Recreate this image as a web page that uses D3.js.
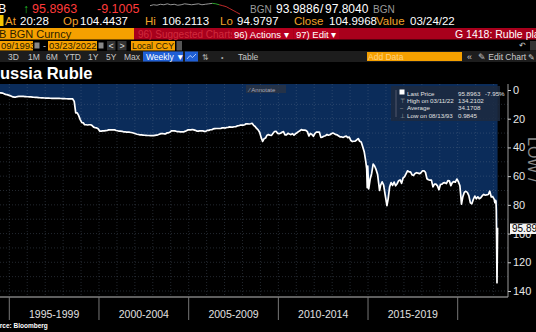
<!DOCTYPE html>
<html><head><meta charset="utf-8">
<script src="https://cdn.jsdelivr.net/npm/d3@7"></script>
<style>
html,body{margin:0;padding:0;background:#000;overflow:hidden;}
svg{display:block;}
text{font-family:"Liberation Sans",Arial,sans-serif;}
</style></head><body>
<svg id="c" width="536" height="332"></svg>
<script>
// ---------------- DATA ----------------
const dates = [
"1993-09-15","1993-10-15","1993-11-15","1993-12-15",
"1994-01-15","1994-02-15","1994-03-15","1994-04-15","1994-05-15","1994-06-15","1994-07-15","1994-08-15","1994-09-15","1994-10-15","1994-11-15","1994-12-15",
"1995-01-15","1995-02-15","1995-03-15","1995-04-15","1995-05-15","1995-06-15","1995-07-15","1995-08-15","1995-09-15","1995-10-15","1995-11-15","1995-12-15",
"1996-01-15","1996-02-15","1996-03-15","1996-04-15","1996-05-15","1996-06-15","1996-07-15","1996-08-15","1996-09-15","1996-10-15","1996-11-15","1996-12-15",
"1997-01-15","1997-02-15","1997-03-15","1997-04-15","1997-05-15","1997-06-15","1997-07-15","1997-08-15","1997-09-15","1997-10-15","1997-11-15","1997-12-15",
"1998-01-15","1998-02-15","1998-03-15","1998-04-15","1998-05-15","1998-06-15","1998-07-15","1998-08-15","1998-09-15","1998-10-15","1998-11-15","1998-12-15",
"1999-01-15","1999-02-15","1999-03-15","1999-04-15","1999-05-15","1999-06-15","1999-07-15","1999-08-15","1999-09-15","1999-10-15","1999-11-15","1999-12-15",
"2000-01-15","2000-02-15","2000-03-15","2000-04-15","2000-05-15","2000-06-15","2000-07-15","2000-08-15","2000-09-15","2000-10-15","2000-11-15","2000-12-15",
"2001-01-15","2001-02-15","2001-03-15","2001-04-15","2001-05-15","2001-06-15","2001-07-15","2001-08-15","2001-09-15","2001-10-15","2001-11-15","2001-12-15",
"2002-01-15","2002-02-15","2002-03-15","2002-04-15","2002-05-15","2002-06-15","2002-07-15","2002-08-15","2002-09-15","2002-10-15","2002-11-15","2002-12-15",
"2003-01-15","2003-02-15","2003-03-15","2003-04-15","2003-05-15","2003-06-15","2003-07-15","2003-08-15","2003-09-15","2003-10-15","2003-11-15","2003-12-15",
"2004-01-15","2004-02-15","2004-03-15","2004-04-15","2004-05-15","2004-06-15","2004-07-15","2004-08-15","2004-09-15","2004-10-15","2004-11-15","2004-12-15",
"2005-01-15","2005-02-15","2005-03-15","2005-04-15","2005-05-15","2005-06-15","2005-07-15","2005-08-15","2005-09-15","2005-10-15","2005-11-15","2005-12-15",
"2006-01-15","2006-02-15","2006-03-15","2006-04-15","2006-05-15","2006-06-15","2006-07-15","2006-08-15","2006-09-15","2006-10-15","2006-11-15","2006-12-15",
"2007-01-15","2007-02-15","2007-03-15","2007-04-15","2007-05-15","2007-06-15","2007-07-15","2007-08-15","2007-09-15","2007-10-15","2007-11-15","2007-12-15",
"2008-01-15","2008-02-15","2008-03-15","2008-04-15","2008-05-15","2008-06-15","2008-07-15","2008-08-15","2008-09-15","2008-10-15","2008-11-15","2008-12-15",
"2009-01-15","2009-02-15","2009-03-15","2009-04-15","2009-05-15","2009-06-15","2009-07-15","2009-08-15","2009-09-15","2009-10-15","2009-11-15","2009-12-15",
"2010-01-15","2010-02-15","2010-03-15","2010-04-15","2010-05-15","2010-06-15","2010-07-15","2010-08-15","2010-09-15","2010-10-15","2010-11-15","2010-12-15",
"2011-01-15","2011-02-15","2011-03-15","2011-04-15","2011-05-15","2011-06-15","2011-07-15","2011-08-15","2011-09-15","2011-10-15","2011-11-15","2011-12-15",
"2012-01-15","2012-02-15","2012-03-15","2012-04-15","2012-05-15","2012-06-15","2012-07-15","2012-08-15","2012-09-15","2012-10-15","2012-11-15","2012-12-15",
"2013-01-15","2013-02-15","2013-03-15","2013-04-15","2013-05-15","2013-06-15","2013-07-15","2013-08-15","2013-09-15","2013-10-15","2013-11-15","2013-12-15",
"2014-01-15","2014-02-15","2014-03-15","2014-04-15","2014-05-15","2014-06-15","2014-07-15","2014-08-15","2014-09-15","2014-10-15","2014-11-15","2014-12-05","2014-12-16","2014-12-26",
"2015-01-15","2015-02-15","2015-03-15","2015-04-15","2015-05-15","2015-06-15","2015-07-15","2015-08-24","2015-09-15","2015-10-15","2015-11-15","2015-12-15",
"2016-01-21","2016-02-15","2016-03-15","2016-04-15","2016-05-15","2016-06-15","2016-07-15","2016-08-15","2016-09-15","2016-10-15","2016-11-15","2016-12-15",
"2017-01-15","2017-02-15","2017-03-15","2017-04-15","2017-05-15","2017-06-15","2017-07-15","2017-08-15","2017-09-15","2017-10-15","2017-11-15","2017-12-15",
"2018-01-15","2018-02-15","2018-03-15","2018-04-15","2018-05-15","2018-06-15","2018-07-15","2018-08-15","2018-09-15","2018-10-15","2018-11-15","2018-12-15",
"2019-01-15","2019-02-15","2019-03-15","2019-04-15","2019-05-15","2019-06-15","2019-07-15","2019-08-15","2019-09-15","2019-10-15","2019-11-15","2019-12-15",
"2020-01-15","2020-02-15","2020-03-18","2020-04-15","2020-05-15","2020-06-15","2020-07-15","2020-08-15","2020-09-15","2020-10-15","2020-11-15","2020-12-15",
"2021-01-15","2021-02-15","2021-03-15","2021-04-15","2021-05-15","2021-06-15","2021-07-15","2021-08-15","2021-09-15","2021-10-15","2021-11-15","2021-12-15",
"2022-01-14","2022-01-28","2022-02-11","2022-02-18","2022-02-25","2022-03-04","2022-03-11","2022-03-18","2022-03-23"
];
const values = [
1.0,1.18,1.19,1.25,
1.5,1.6,1.75,1.8,1.9,1.99,2.03,2.15,2.6,3.05,3.23,3.55,
3.9,4.3,4.8,5.0,4.9,4.6,4.5,4.4,4.5,4.5,4.55,4.64,
4.7,4.8,4.85,4.95,5.05,5.1,5.2,5.3,5.4,5.45,5.5,5.56,
5.6,5.65,5.7,5.75,5.78,5.78,5.8,5.83,5.86,5.88,5.92,5.96,
6.0,6.07,6.1,6.12,6.16,6.2,6.23,7.9,16.0,15.9,17.9,20.6,
22.6,22.9,24.2,24.2,24.4,24.2,24.2,24.8,25.9,26.2,26.4,27.0,
28.6,28.7,28.5,28.5,28.3,28.2,27.8,27.8,27.8,27.8,27.8,28.2,
28.4,28.7,28.7,28.8,29.1,29.1,29.3,29.4,29.4,29.6,29.8,30.1,
30.5,30.8,31.0,31.2,31.3,31.4,31.5,31.6,31.7,31.7,31.8,31.8,
31.8,31.6,31.4,31.2,30.8,30.4,30.3,30.5,30.6,29.9,29.8,29.4,
28.5,28.5,28.5,28.7,29.0,29.0,29.1,29.2,29.2,28.8,28.4,27.8,
27.7,27.8,27.5,27.8,28.1,28.6,28.6,28.5,28.5,28.5,28.8,28.8,
28.1,28.1,27.7,27.7,27.1,26.9,26.8,26.8,26.8,26.8,26.4,26.3,
26.5,26.1,26.0,25.7,25.8,25.8,25.6,25.6,25.0,24.9,24.5,24.5,
24.5,24.2,23.5,23.6,23.7,23.5,23.2,24.6,25.4,26.8,27.8,29.4,
33.0,35.8,34.0,33.5,31.5,31.1,31.5,31.6,30.1,28.9,28.8,30.2,
30.4,30.1,29.4,29.0,31.2,31.2,30.2,30.7,31.1,30.4,31.4,30.5,
29.8,29.0,28.4,27.6,28.0,27.9,28.1,29.0,32.0,30.3,31.0,32.2,
30.3,29.3,29.3,29.3,33.0,32.8,32.2,31.9,31.0,31.5,31.2,30.5,
30.0,30.5,31.1,31.3,32.0,32.7,32.7,33.0,32.4,32.1,33.2,32.8,
35.1,35.9,35.7,35.6,34.8,33.8,35.7,36.2,39.6,43.0,49.5,55.0,68.0,53.0,
68.9,61.8,58.3,51.6,52.9,55.5,58.9,70.0,66.2,64.0,66.2,72.9,
80.5,75.8,67.6,64.5,66.5,64.1,66.7,65.3,63.2,62.6,65.0,61.3,
60.4,58.2,56.3,57.0,57.0,59.1,59.6,58.2,57.6,57.9,58.3,57.6,
56.3,56.3,57.3,61.8,62.5,62.8,62.8,67.5,65.6,65.6,66.8,69.4,
65.8,65.6,64.7,64.5,65.2,63.1,63.3,66.6,64.4,63.8,64.2,62.0,
63.9,66.7,79.5,74.3,71.2,70.6,71.3,73.6,78.6,79.3,76.1,73.9,
75.8,74.4,75.7,75.0,73.6,72.7,73.3,73.0,72.8,70.5,74.5,74.3,
76.2,78.5,76.9,77.4,83.6,106.0,134.2,112.0,95.9
];
const yTicks = [0,20,40,60,80,100,120,140];
const periodLabels = ["1995-1999","2000-2004","2005-2009","2010-2014","2015-2019"];
const periodStarts = [1995,2000,2005,2010,2015,2020];
const sparkValues = [5,4,4.5,3.5,4,3,4,3.5,4.5,4,3,3.5,4,3.5,3,4,3.5,3,2.5,3,4,5,6,8,10,12,14];
const legendRows = [
  ["Last Price","95.8963","-7.95%"],
  ["High on 03/11/22","134.2102",""],
  ["Average","34.1708",""],
  ["Low on 08/13/93","0.9845",""]
];

// ---------------- DRAW ----------------
const svg = d3.select("#c");
const parse = d3.timeParse("%Y-%m-%d");
const data = dates.map((d,i)=>({date:parse(d), value:values[i]}));

const plotTop = 84, plotBottom = 297, plotLeft = 0, plotRight = 508;
const x = d3.scaleTime().domain([new Date(1995,0,1), new Date(2020,0,1)]).range([9.3,457.7]);
const y = d3.scaleLinear().domain([0,140]).range([90,291]);

svg.append("rect").attr("width",536).attr("height",332).attr("fill","#000");

function t(txt,xx,yy,opt={}){
  const e = svg.append("text").attr("x",xx).attr("y",yy).text(txt)
    .attr("font-size",opt.size||11.5).attr("fill",opt.fill||"#fff");
  if(opt.weight) e.attr("font-weight",opt.weight);
  if(opt.anchor) e.attr("text-anchor",opt.anchor);
  return e;
}
// row 1
t("B",-2,13,{size:12.5});
t("\u2191",23,13,{size:12,fill:"#22c02a"});
t("95.8963",32,13,{size:12.5,fill:"#ff3a3a"});
t("-9.1005",97,13,{size:12.5,fill:"#ff3a3a"});
const sx = d3.scaleLinear().domain([0,sparkValues.length-1]).range([150,240]);
const sy = d3.scaleLinear().domain([0,16]).range([1,16]);
const spark = d3.line().x((d,i)=>sx(i)).y(d=>sy(d));
svg.append("path").attr("d",spark(sparkValues.slice(0,19))).attr("fill","none").attr("stroke","#bbb").attr("stroke-width",0.8);
svg.append("path").attr("d",spark.x((d,i)=>sx(i+18))(sparkValues.slice(18,21))).attr("fill","none").attr("stroke","#3c3").attr("stroke-width",0.8);
svg.append("path").attr("d",spark.x((d,i)=>sx(i+20))(sparkValues.slice(20))).attr("fill","none").attr("stroke","#e33").attr("stroke-width",0.8);
t("BGN",250,13,{size:10,fill:"#9a9a9a"});
t("93.9886",276,13,{size:12});
t("/",320,13,{size:12});
t("97.8040",325,13,{size:12});
t("BGN",373,13,{size:10,fill:"#9a9a9a"});
// row 2
svg.append("rect").attr("x",0).attr("y",15).attr("width",3.5).attr("height",11).attr("fill","#f5c400");
const or = "#f0a22a";
t("At",5,25,{size:11.5,fill:or}); t("20:28",20,25,{size:11.5});
t("Op",63,25,{size:11.5,fill:or}); t("104.4437",80,25,{size:11.5});
t("Hi",145,25,{size:11.5,fill:or}); t("106.2113",162,25,{size:11.5});
t("Lo",220,25,{size:11.5,fill:or}); t("94.9797",237,25,{size:11.5});
t("Close",294,25,{size:11.5,fill:or}); t("104.9968",329,25,{size:11.5});
t("Value",376,25,{size:11.5,fill:or}); t("03/24/22",410,25,{size:11.5});
// row 3
svg.append("rect").attr("x",0).attr("y",28).attr("width",134).attr("height",11.5).attr("fill","#f5a000");
t("B BGN Curncy",-1,38,{size:11,fill:"#2a1c00"});
svg.append("rect").attr("x",134).attr("y",28).attr("width",402).attr("height",11.5).attr("fill","#a8001c");
t("96) Suggested Charts",138,38,{size:10,fill:"#d02a3c"});
svg.append("rect").attr("x",232).attr("y",28.5).attr("width",61).attr("height",10.5).attr("fill","#b8001e");
t("96) Actions \u25BE",234,37.5,{size:9.5});
svg.append("rect").attr("x",294).attr("y",28.5).attr("width",45).attr("height",10.5).attr("fill","#b8001e");
t("97) Edit \u25BE",296,37.5,{size:9.5});
t("G 1418: Ruble plan",455,38,{size:10.5});
// row 4
function field(x0,w,txt,sz){
  svg.append("rect").attr("x",x0).attr("y",41).attr("width",w).attr("height",9.5).attr("fill","#f5a000");
  t(txt,x0+1,49,{size:sz||9.5,fill:"#2a1c00"});
}
field(0,33,"09/1993");
svg.append("rect").attr("x",34.5).attr("y",42.5).attr("width",5).attr("height",6).attr("fill","#888");
t("-",43,49,{size:9,fill:"#ccc"});
field(48,49,"03/23/2022");
svg.append("rect").attr("x",98.5).attr("y",42.5).attr("width",5).attr("height",6).attr("fill","#888");
svg.append("rect").attr("x",107).attr("y",41).attr("width",8.5).attr("height",9.5).attr("fill","#333");
t("<",108.5,49,{size:9,fill:"#ddd"});
svg.append("rect").attr("x",117.5).attr("y",41).attr("width",9).attr("height",9.5).attr("fill","#333");
t(">",119.5,49,{size:9,fill:"#ddd"});
field(131,44,"Local CCY",8.8);
svg.append("rect").attr("x",176.5).attr("y",41).attr("width",5.5).attr("height",9.5).attr("fill","#555");
t("\u21B6",519,48,{size:8,fill:"#ccc"});
svg.append("rect").attr("x",530).attr("y",41).attr("width",6).attr("height",9.5).attr("fill","#333");
// row 5
svg.append("rect").attr("x",0).attr("y",51).attr("width",536).attr("height",11).attr("fill","#1d1d1d");
const r5 = [["3D",8],["1M",28],["6M",46],["YTD",64],["1Y",88],["5Y",106],["Max",124]];
r5.forEach(d=>t(d[0],d[1],59.5,{size:8.5,fill:"#c8c8c8"}));
svg.append("rect").attr("x",143).attr("y",51.5).attr("width",40).attr("height",10).attr("fill","#1f5fd6");
t("Weekly \u25BC",146,59.5,{size:8.5});
svg.append("rect").attr("x",185).attr("y",51.5).attr("width",13).attr("height",10).attr("fill","#1f5fd6");
svg.append("path").attr("d","M187,59 L190,55.5 L192.5,57.5 L196,54").attr("fill","none").attr("stroke","#cfe0ff").attr("stroke-width",0.8);
t("\u21C5",202,59.5,{size:8,fill:"#aaa"});
t("\u2022",221,59.5,{size:7,fill:"#aaa"});
t("Table",238,59.5,{size:8.5,fill:"#c8c8c8"});
svg.append("rect").attr("x",367).attr("y",52).attr("width",95).attr("height",9).attr("fill","#f5a000");
t("Add Data",368,59.5,{size:8.5,fill:"#ffd280"});
t("\u00AB",467,59.5,{size:9,fill:"#ccc"});
t("\u270E Edit Chart",478,59.5,{size:8.5,fill:"#ccc"});
t("\u270E",528,59.5,{size:8,fill:"#ccc"});

// title
t("Russia Ruble",-12,79,{size:16.5,weight:"bold"});

// ---- plot ----
svg.append("defs").append("clipPath").attr("id","pc").append("rect")
  .attr("x",plotLeft).attr("y",plotTop).attr("width",plotRight-plotLeft).attr("height",plotBottom-plotTop);
const g = svg.append("g").attr("clip-path","url(#pc)");
g.append("path").datum(data)
  .attr("d",d3.area().x(d=>x(d.date)).y0(plotTop).y1(d=>y(d.value)))
  .attr("fill","#0b2c5a");
const grid = g.append("g").attr("stroke","#6f7f95").attr("stroke-opacity",0.45).attr("stroke-width",0.7).attr("stroke-dasharray","1,2");
d3.range(10,141,10).forEach(v=>{
  grid.append("line").attr("x1",plotLeft).attr("x2",plotRight).attr("y1",y(v)).attr("y2",y(v));
});
d3.range(1994,2023).forEach(yr=>{
  const xx = x(new Date(yr,0,1));
  grid.append("line").attr("x1",xx).attr("x2",xx).attr("y1",plotTop).attr("y2",plotBottom);
});
g.append("path").datum(data)
  .attr("d",d3.line().x(d=>x(d.date)).y(d=>y(d.value)))
  .attr("fill","none").attr("stroke","#fff").attr("stroke-width",1.7).attr("stroke-linejoin","round");

// annotate button
svg.append("rect").attr("x",246).attr("y",85).attr("width",40).attr("height",8).attr("fill","#2a3444").attr("opacity",0.8);
t("\u2215  Annotate",249,91.5,{size:6,fill:"#aab"});

// legend
svg.append("rect").attr("x",391).attr("y",86).attr("width",109).attr("height",35).attr("fill","#1d2a40").attr("opacity",0.85);
svg.append("line").attr("x1",396).attr("x2",396).attr("y1",90).attr("y2",117).attr("stroke","#778").attr("stroke-width",0.6);
svg.append("rect").attr("x",399.5).attr("y",89.5).attr("width",5).attr("height",5).attr("fill","#fff");
const ly = [94,100.5,108,115.5];
const marks = ["","\u22A4","\u2013","\u22A5"];
legendRows.forEach((r,i)=>{
  if(marks[i]) t(marks[i],400,ly[i]+2.2,{size:5.5,fill:"#aaa"});
  t(r[0],407,ly[i]+2.2,{size:6.2,fill:"#e0e0e0"});
  t(r[1],458,ly[i]+2.2,{size:6.2,fill:"#e0e0e0"});
  if(r[2]) t(r[2],485,ly[i]+2.2,{size:6.2,fill:"#e0e0e0"});
});

// axes
svg.append("line").attr("x1",plotLeft).attr("x2",plotRight).attr("y1",plotBottom).attr("y2",plotBottom).attr("stroke","#bdbdbd").attr("stroke-width",1);
svg.append("line").attr("x1",plotRight).attr("x2",plotRight).attr("y1",plotTop).attr("y2",plotBottom).attr("stroke","#9a9a9a").attr("stroke-width",1);
const yAxis = d3.axisRight(y).tickValues(yTicks).tickSize(3).tickPadding(2).tickFormat(d3.format("d"));
const ya = svg.append("g").attr("transform",`translate(${plotRight},0)`).call(yAxis);
ya.select(".domain").remove();
ya.selectAll("line").attr("stroke","#ccc");
ya.selectAll("text").attr("fill","#e6e6e6").attr("font-size",11).attr("font-family","Liberation Sans, Arial, sans-serif");

periodStarts.forEach(yr=>{
  const xx = x(new Date(yr,0,1));
  svg.append("line").attr("x1",xx).attr("x2",xx).attr("y1",plotBottom).attr("y2",320).attr("stroke","#777").attr("stroke-width",1);
});
periodLabels.forEach((lab,i)=>{
  const xm = (x(new Date(periodStarts[i],0,1))+x(new Date(periodStarts[i+1],0,1)))/2;
  t(lab,xm,318,{size:10.5,fill:"#e0e0e0",anchor:"middle"});
});

// last price tag
svg.append("rect").attr("x",510).attr("y",223.5).attr("width",27).attr("height",10.5).attr("fill","#f4f4f4");
t("95.89",512,232,{size:10,fill:"#000"});

// rotated axis caption
svg.append("text").attr("transform","translate(528,137) rotate(90)").text("LOW /")
  .attr("font-size",16).attr("fill","#8a8a8a");

// source
t("Source: Bloomberg",-12.5,328,{size:6.5,weight:"bold"});
</script>
</body></html>
